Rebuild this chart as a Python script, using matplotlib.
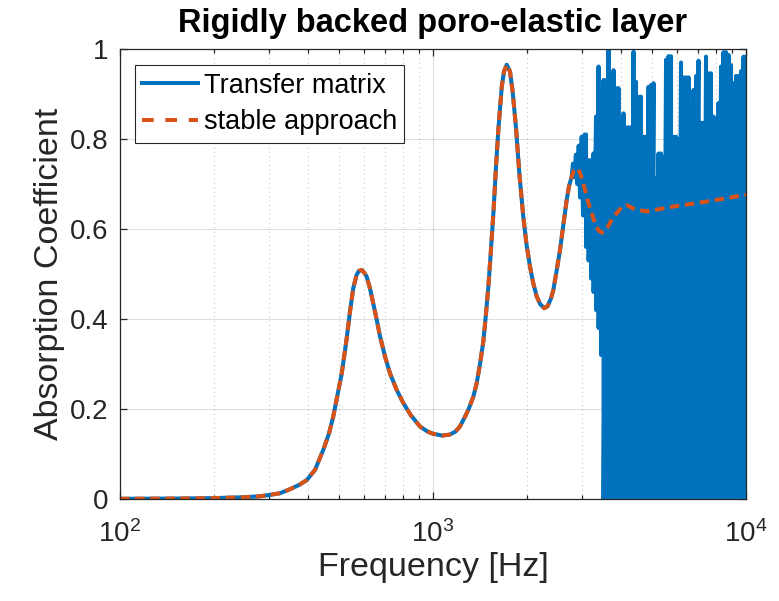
import numpy as np
import matplotlib
matplotlib.use("Agg")
import matplotlib.pyplot as plt
from matplotlib.ticker import LogLocator, FixedLocator
from matplotlib.lines import Line2D

# ---------------- data ----------------
freq_stable = [100, 150, 200, 250, 280, 300, 324, 350, 375, 395, 420, 446, 465, 480, 495,
               511, 530, 543, 556, 570, 580, 592, 603, 614, 629, 653, 677, 703, 729, 765,
               804, 850, 909, 960, 1000, 1071, 1130, 1180, 1219, 1270, 1300, 1345, 1379,
               1413, 1448, 1476, 1504, 1532, 1561, 1590, 1619, 1658, 1686, 1720, 1762,
               1797, 1842, 1887, 1943, 1990, 2042, 2090, 2145, 2200, 2268, 2320, 2380,
               2423, 2480, 2545, 2610, 2673, 2720, 2773, 2820, 2877, 2920, 2980, 3060,
               3130, 3215, 3300, 3380, 3460, 3530, 3620, 3750, 3861, 4000, 4158, 4300,
               4419, 4815, 5861, 7487, 10000]
alpha_stable = [0.0005, 0.001, 0.002, 0.004, 0.006, 0.009, 0.0127, 0.022, 0.032, 0.042,
                0.065, 0.109, 0.145, 0.183, 0.230, 0.279, 0.357, 0.416, 0.468, 0.498,
                0.507, 0.509, 0.503, 0.494, 0.468, 0.416, 0.362, 0.316, 0.279, 0.243,
                0.213, 0.186, 0.161, 0.150, 0.145, 0.141, 0.143, 0.150, 0.161, 0.185,
                0.200, 0.227, 0.257, 0.300, 0.350, 0.410, 0.475, 0.555, 0.640, 0.740,
                0.825, 0.915, 0.950, 0.965, 0.950, 0.905, 0.824, 0.724, 0.627, 0.565,
                0.516, 0.480, 0.450, 0.433, 0.424, 0.428, 0.445, 0.464, 0.505, 0.553,
                0.610, 0.664, 0.695, 0.716, 0.730, 0.735, 0.732, 0.715, 0.687, 0.660,
                0.635, 0.610, 0.597, 0.592, 0.594, 0.605, 0.625, 0.635, 0.648, 0.653,
                0.648, 0.644, 0.639, 0.650, 0.661, 0.676]

# transfer matrix coincides with the stable approach up to this frequency
tm_smooth_limit = 2773
# transfer matrix: first small wiggles above ~2.8 kHz
freq_tm_wiggle = [2800, 2830, 2860, 2890, 2920, 2950, 2985, 3015, 3050]
alpha_tm_wiggle = [0.745, 0.715, 0.765, 0.700, 0.785, 0.670, 0.805, 0.630, 0.810]

# transfer matrix: numerically unstable oscillating part (peaks and troughs)
freq_tm_osc = [3083, 3140, 3198, 3258, 3318, 3380, 3442, 3506, 3572, 3638, 3705, 3774,
               3844, 3915, 3988, 4062, 4138, 4214, 4292, 4372, 4453, 4536, 4620, 4706,
               4793, 4882, 4973, 5065, 5159, 5255, 5352, 5452, 5553, 5656, 5761, 5868,
               5977, 6088, 6200, 6316, 6433, 6552, 6674, 6798, 6924, 7052, 7183, 7317,
               7452, 7591, 7731, 7875, 8021, 8170, 8322, 8476, 8633, 8793, 8957, 9123,
               9292, 9465, 9640, 9819, 10000]
alpha_tm_peak = [0.810, 0.753, 0.753, 0.768, 0.850, 0.961, 0.909, 0.931, 0.931, 0.998,
                 0.920, 0.953, 0.913, 0.913, 0.846, 0.857, 0.826, 0.826, 0.826, 0.994,
                 0.927, 0.894, 0.894, 0.805, 0.805, 0.916, 0.920, 0.924, 0.713, 0.768,
                 0.768, 0.760, 0.976, 0.984, 0.984, 0.805, 0.805, 0.800, 0.970, 0.937,
                 0.937, 0.937, 0.876, 0.909, 0.940, 0.974, 0.836, 0.836, 0.983, 0.946,
                 0.946, 0.850, 0.805, 0.880, 0.961, 0.993, 0.993, 0.987, 0.964, 0.924,
                 0.940, 0.940, 0.951, 0.983, 0.983]
alpha_tm_trough = [0.56, 0.53, 0.49, 0.46, 0.42, 0.38, 0.32, 0.0, 0.0, 0.0,
                   0.0, 0.0, 0.0, 0.0, 0.0, 0.0, 0.0, 0.0, 0.0, 0.0,
                   0.0, 0.0, 0.0, 0.0, 0.0, 0.0, 0.0, 0.0, 0.0, 0.0,
                   0.0, 0.0, 0.0, 0.0, 0.0, 0.0, 0.0, 0.0, 0.0, 0.0,
                   0.0, 0.0, 0.0, 0.0, 0.0, 0.0, 0.0, 0.0, 0.0, 0.0,
                   0.0, 0.0, 0.0, 0.0, 0.0, 0.0, 0.0, 0.0, 0.0, 0.0,
                   0.0, 0.0, 0.0, 0.0, 0.0]

y_ticks = [0, 0.2, 0.4, 0.6, 0.8, 1]
y_ticklabels = ["0", "0.2", "0.4", "0.6", "0.8", "1"]
series_names = ["Transfer matrix", "stable approach"]

# ---------------- assemble transfer-matrix line ----------------
fs = np.asarray(freq_stable, float)
as_ = np.asarray(alpha_stable, float)
keep = fs <= tm_smooth_limit
f_osc = np.repeat(np.asarray(freq_tm_osc, float), 2)
a_osc = np.column_stack([alpha_tm_peak, alpha_tm_trough]).ravel()
f_tm = np.concatenate([fs[keep], freq_tm_wiggle, f_osc])
a_tm = np.concatenate([as_[keep], alpha_tm_wiggle, a_osc])

# ---------------- style ----------------
plt.rcParams['font.family'] = ['Liberation Sans', 'DejaVu Sans']
plt.rcParams['mathtext.fontset'] = 'custom'
plt.rcParams['mathtext.rm'] = 'Liberation Sans'
plt.rcParams['mathtext.it'] = 'Liberation Sans:italic'
plt.rcParams['mathtext.bf'] = 'Liberation Sans:bold'

txt = (0.15, 0.15, 0.15)
blue = '#0072BD'
orange = '#D95319'
LW = 2.9

fig = plt.figure(figsize=(7.79, 6.01), dpi=100)
ax = fig.add_axes([120 / 779, 1 - 499 / 601, 626 / 779, 450 / 601])

ax.plot(f_tm, a_tm, color=blue, lw=LW, solid_joinstyle='round', solid_capstyle='round')
ls, = ax.plot(fs, as_, color=orange, lw=LW, ls='--')
ls.set_dashes((2.35, 1.4))

ax.set_xscale('log')
ax.set_xlim(100, 10000)
ax.set_ylim(0, 1)
ax.set_yticks(y_ticks)
ax.set_yticklabels(y_ticklabels)
ax.xaxis.set_major_locator(FixedLocator([1e2, 1e3, 1e4]))
ax.xaxis.set_minor_locator(LogLocator(base=10, subs=np.arange(2, 10)))

ax.grid(True, which='major', color=txt, alpha=0.15, lw=0.8)
ax.grid(True, which='minor', axis='x', color=txt, alpha=0.25, lw=0.8, ls=(0, (1, 3)))
ax.set_axisbelow(True)

for sp in ax.spines.values():
    sp.set_color(txt)
    sp.set_linewidth(0.9)

ax.tick_params(which='both', direction='in', top=True, right=True, colors=txt,
               labelcolor=txt, labelsize=20, width=0.9)
ax.tick_params(which='major', length=5)
ax.tick_params(which='minor', length=3)
ax.tick_params(axis='y', pad=8.5)
ax.tick_params(axis='x', pad=15)

ax.set_xlabel('Frequency [Hz]', fontsize=24.5, color=txt, labelpad=3)
ax.set_ylabel('Absorption Coefficient', fontsize=24.5, color=txt, labelpad=3)
ax.set_title('Rigidly backed poro-elastic layer', fontsize=23.5, fontweight='bold',
             color='black', pad=12)

handles = [Line2D([], [], color=blue, lw=LW),
           Line2D([], [], color=orange, lw=LW, dashes=(2.9, 2.9))]
leg = ax.legend(handles, series_names, loc='upper left', bbox_to_anchor=(0.024, 0.964),
                fontsize=19.5, frameon=True, fancybox=False, edgecolor=txt, framealpha=1,
                handlelength=2.05, handletextpad=0.22, borderpad=0.27,
                labelspacing=0.4, borderaxespad=0)
leg.get_frame().set_linewidth(0.8)
for t in leg.get_texts():
    t.set_color('black')

fig.savefig('out.png', dpi=100)
